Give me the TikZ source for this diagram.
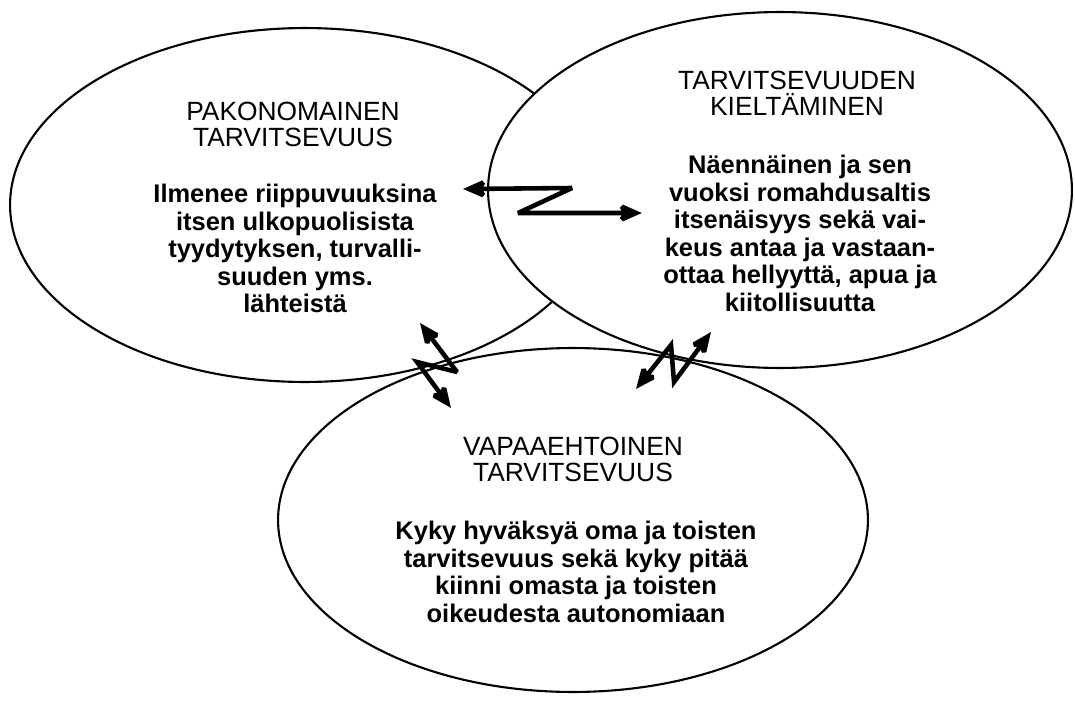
\documentclass[tikz,border=0pt]{standalone}
\usepackage{fontspec}
\setmainfont{Liberation Sans}
\usetikzlibrary{shapes.geometric,arrows.meta}
\tikzset{
  ring/.style={draw, ellipse, line width=1.2pt, inner sep=0pt},
  head/.style={font=\fontsize{15}{14.5}\selectfont, align=center, anchor=north, inner sep=0pt},
  body/.style={font=\bfseries\fontsize{14.5}{15.65}\selectfont, align=center, anchor=north, inner sep=0pt},
  zig/.style={line width=2.6pt, line join=miter, miter limit=3,
    >={Stealth[length=14pt,width=12pt,inset=3pt]}, <->}
}
\begin{document}
\begin{tikzpicture}[x=0.02cm,y=-0.02cm]
      \useasboundingbox (0,0) rectangle (1075,700);
      % ellipses
      \node[ring, minimum width=11.8cm, minimum height=7.08cm] (pako) at (305,205) {};
      \node[ring, fill=white, minimum width=11.68cm, minimum height=7.12cm] (kielto) at (780,190) {};
      \node[ring, minimum width=11.8cm, minimum height=6.88cm] (vapaa) at (573,520) {};
      % titles
      \node[head] (pakohead) at (293,102) {PAKONOMAINEN\\TARVITSEVUUS};
      \node[head] (kieltohead) at (797,71) {TARVITSEVUUDEN\\KIELTÄMINEN};
      \node[head] (vapaahead) at (573,437) {VAPAAEHTOINEN\\TARVITSEVUUS};
      % texts
      \node[body] (pakotext) at (295,184) {Ilmenee riippuvuuksina\\itsen ulkopuolisista\\tyydytyksen, turvalli-\\suuden yms.\\lähteistä};
      \node[body] (kieltotext) at (800,155) {Näennäinen ja sen\\vuoksi romahdusaltis\\itsenäisyys sekä vai-\\keus antaa ja vastaan-\\ottaa hellyyttä, apua ja\\kiitollisuutta};
      \node[body] (vapaatext) at (576,521) {Kyky hyväksyä oma ja toisten\\tarvitsevuus sekä kyky pitää\\kiinni omasta ja toisten\\oikeudesta autonomiaan};
      % zigzag arrows
      \coordinate (pk1) at (463,189);
      \coordinate (pk2) at (572,188);
      \coordinate (pk3) at (518,213);
      \coordinate (pk4) at (642,213);
      \draw[zig] (pk1) -- (pk2) -- (pk3) -- (pk4);
      \coordinate (pv1) at (420,323);
      \coordinate (pv2) at (457,372);
      \coordinate (pv3) at (417,362);
      \coordinate (pv4) at (451,408);
      \draw[zig] (pv1) -- (pv2) -- (pv3) -- (pv4);
      \coordinate (kv1) at (636,389);
      \coordinate (kv2) at (671,345);
      \coordinate (kv3) at (674,382);
      \coordinate (kv4) at (711,332);
      \draw[zig] (kv1) -- (kv2) -- (kv3) -- (kv4);
\end{tikzpicture}
\end{document}
